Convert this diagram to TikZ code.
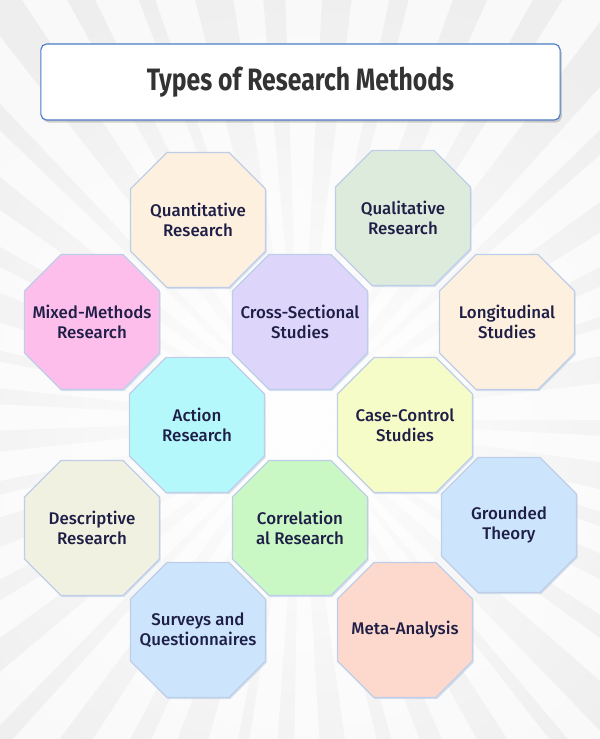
\documentclass[tikz,border=0pt]{standalone}
\usepackage{fontspec}
\usepackage{xcolor}
\usepackage{tikz}
\usetikzlibrary{shadows,fadings}
\newfontfamily\octfont{Fira Sans Medium}
\newfontfamily\headfont{Fira Sans}[FakeStretch=0.8]

\definecolor{raygray}{HTML}{EEEEEE}
\definecolor{basegray}{HTML}{F9F9F9}
\definecolor{boxblue}{HTML}{4A7BC6}
\definecolor{headgray}{HTML}{333333}
\definecolor{labelnavy}{HTML}{1E1E46}
\definecolor{octedge}{HTML}{BFCEE8}
\definecolor{cQuant}{HTML}{FEF0DF}
\definecolor{cQual}{HTML}{DDEBDD}
\definecolor{cMixed}{HTML}{FDBEEB}
\definecolor{cCross}{HTML}{DED5FB}
\definecolor{cLongi}{HTML}{FEF0DF}
\definecolor{cAction}{HTML}{B5F8FC}
\definecolor{cCase}{HTML}{F6FCC8}
\definecolor{cDescr}{HTML}{F1F1E1}
\definecolor{cCorrel}{HTML}{C9F8C5}
\definecolor{cGround}{HTML}{CCE5FC}
\definecolor{cSurvey}{HTML}{CCE5FC}
\definecolor{cMeta}{HTML}{FDD9CD}

\tikzfading[name=centrefade, inner color=transparent!0, outer color=transparent!100]

\begin{document}
\begin{tikzpicture}[x=0.025cm,y=-0.025cm,
  titlebox/.style={draw=boxblue,line width=0.8pt,fill=white,rounded corners=4pt,
    minimum width=12.975cm,minimum height=1.9cm,
    drop shadow={shadow xshift=1.2pt,shadow yshift=-1.8pt,opacity=.35,fill=gray}},
  octa/.style={fill=#1,draw=octedge,line width=0.9pt,
    drop shadow={shadow xshift=0.8pt,shadow yshift=-1.2pt,opacity=.2,fill=boxblue}},
  label/.style={font=\octfont\fontsize{12}{14.2}\selectfont,text=labelnavy,
    align=center,inner sep=0pt}
]
  \useasboundingbox (0,0) rectangle (600,739);

  % background rays
  \begin{scope}
    \clip (0,0) rectangle (600,739);
    \fill[basegray] (0,0) rectangle (600,739);
    \foreach \a/\w in {0/3,8/5,17/2.5,24/4,33/3,41/5,50/2,57/4,66/3.5,74/2.5,
        82/4.5,91/3,99/2,106/5,115/3,123/4,132/2.5,140/4,149/3,157/5,
        166/2.5,174/4,183/3,191/2,198/5,207/3,215/4,224/2.5,232/4.5,241/3,
        249/2,256/5,265/3,273/4,282/2.5,290/4,299/3,307/5,316/2.5,324/4,
        333/3,341/2,348/5}
      \fill[raygray] (300,420) -- +(\a:900) -- +(\a+\w:900) -- cycle;
    \fill[white,path fading=centrefade] (300,420) circle (460);
  \end{scope}

  % title
  \node[titlebox] (title) at (300.5,82)
    {\headfont\bfseries\fontsize{22}{26}\selectfont\color{headgray}Types of Research Methods};

  % octagons
  \foreach \name/\x/\y/\col/\txt in {
      quant/198/220/cQuant/{Quantitative\\Research},
      qual/403/218/cQual/{Qualitative\\Research},
      mixed/92/322/cMixed/{Mixed-Methods\\Research},
      cross/300/322/cCross/{Cross-Sectional\\Studies},
      longi/507/322/cLongi/{Longitudinal\\Studies},
      action/197/425/cAction/{Action\\Research},
      casec/405/425/cCase/{Case-Control\\Studies},
      descr/92/528/cDescr/{Descriptive\\Research},
      correl/300/528/cCorrel/{Correlation\\al Research},
      ground/509/525/cGround/{Grounded\\Theory},
      survey/198/630/cSurvey/{Surveys and\\Questionnaires},
      meta/405/630/cMeta/{Meta-Analysis}}{
    \path[octa=\col] (\x,\y) ++(-31,-67.5) -- ++(62,0) -- ++(36.5,36.5) -- ++(0,62)
      -- ++(-36.5,36.5) -- ++(-62,0) -- ++(-36.5,-36.5) -- ++(0,-62) -- cycle;
    \node[label] (\name) at (\x,\y) {\txt};
  }
\end{tikzpicture}
\end{document}
